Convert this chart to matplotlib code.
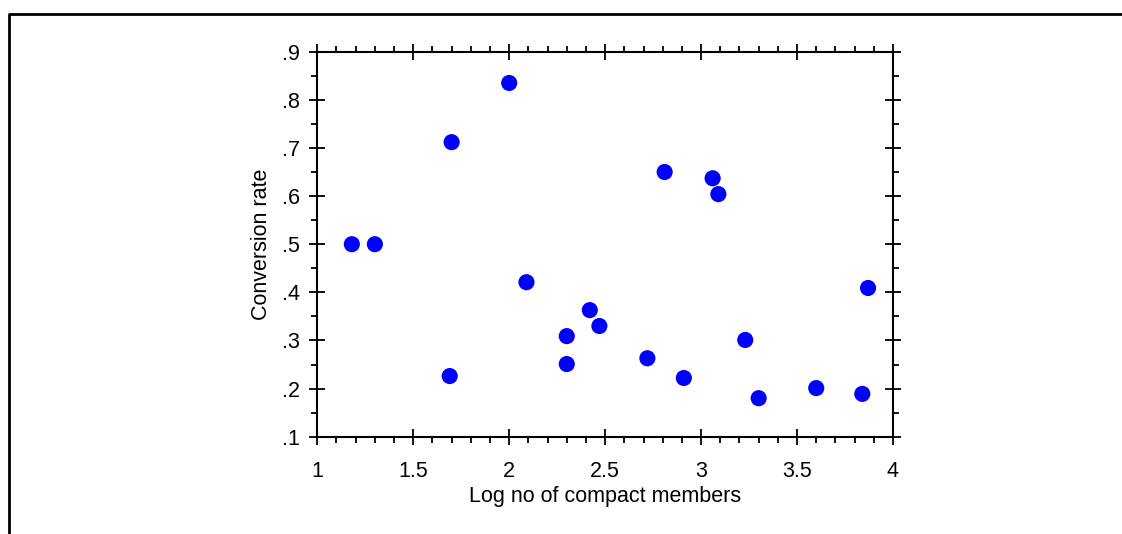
import matplotlib.pyplot as plt
from matplotlib.lines import Line2D
from matplotlib.ticker import MultipleLocator, FixedLocator

plt.rcParams["font.family"] = ["Liberation Sans", "DejaVu Sans"]

log_members = [1.18, 1.30, 1.70, 1.69, 2.00, 2.09, 2.30, 2.30, 2.42, 2.47,
               2.72, 2.81, 2.91, 3.06, 3.09, 3.23, 3.30, 3.60, 3.84, 3.87]
conversion = [0.50, 0.50, 0.712, 0.226, 0.835, 0.421, 0.309, 0.251, 0.363, 0.330,
              0.263, 0.650, 0.222, 0.637, 0.604, 0.301, 0.180, 0.201, 0.189, 0.409]

x_ticks = [1, 1.5, 2, 2.5, 3, 3.5, 4]
x_labels = ["1", "1.5", "2", "2.5", "3", "3.5", "4"]
y_ticks = [0.1, 0.2, 0.3, 0.4, 0.5, 0.6, 0.7, 0.8, 0.9]
y_labels = [".1", ".2", ".3", ".4", ".5", ".6", ".7", ".8", ".9"]

fig = plt.figure(figsize=(11.22, 5.34), dpi=100)
ax = fig.add_axes([0.2828, 0.1822, 0.5131, 0.721])

ax.scatter(log_members, conversion, s=135, color="#0000ff", edgecolors="none",
           zorder=3, clip_on=False)

ax.set_xlim(1, 4)
ax.set_ylim(0.1, 0.9)
ax.xaxis.set_major_locator(FixedLocator(x_ticks))
ax.set_xticklabels(x_labels)
ax.yaxis.set_major_locator(FixedLocator(y_ticks))
ax.set_yticklabels(y_labels)
ax.xaxis.set_minor_locator(MultipleLocator(0.1))
ax.yaxis.set_minor_locator(MultipleLocator(0.05))

for side in ax.spines.values():
    side.set_linewidth(1.5)
ax.tick_params(which="major", direction="inout", length=11, width=1.3,
               top=True, right=True, labelsize=15.5, colors="black")
ax.tick_params(axis="x", which="major", pad=12)
ax.tick_params(axis="y", which="major", pad=7)
ax.tick_params(which="minor", direction="out", length=4, width=1.3,
               top=True, right=True)

ax.set_xlabel("Log no of compact members", fontsize=15.5, labelpad=3)
ax.set_ylabel("Conversion rate", fontsize=15.5, labelpad=7)

# outer frame (top and left edges)
fig.add_artist(Line2D([9 / 1122, 9 / 1122, 1.0], [0.0, 1 - 14 / 534, 1 - 14 / 534],
                      transform=fig.transFigure, color="black", linewidth=2))

fig.savefig("out.png", dpi=100)
